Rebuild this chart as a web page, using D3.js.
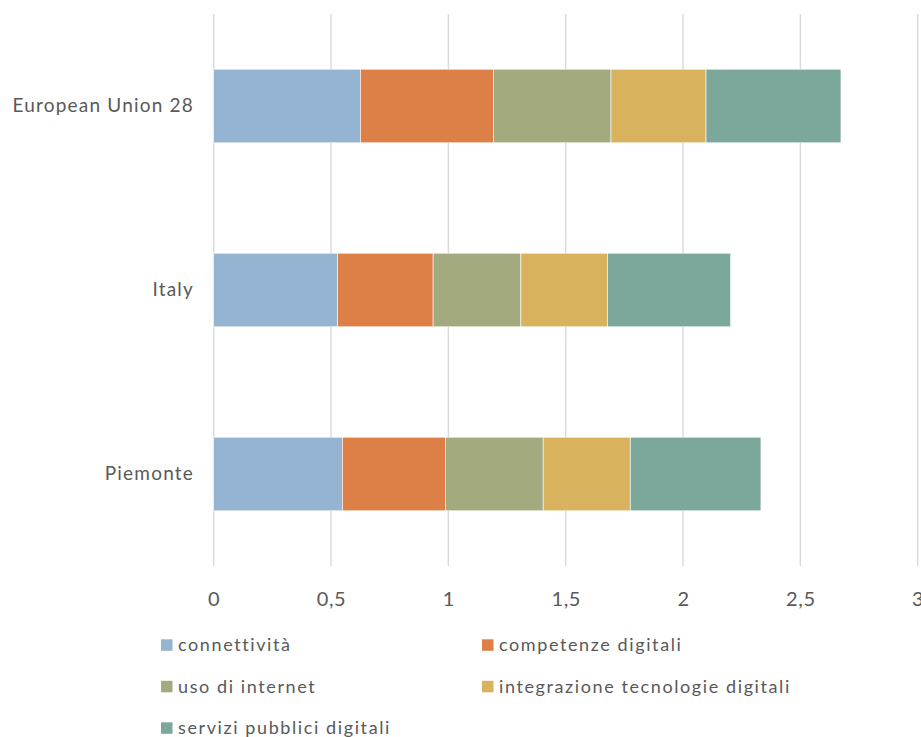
<!DOCTYPE html>
<html>
<head>
<meta charset="utf-8">
<script src="https://cdn.jsdelivr.net/npm/d3@7/dist/d3.min.js"></script>
<style>
  html, body { margin: 0; padding: 0; background: #fff; }
  svg { display: block; font-family: Lato, "Open Sans", sans-serif; }
</style>
</head>
<body>
<svg id="chart" width="921" height="737"></svg>
<script>
// Regions compared
const regions = ["European Union 28", "Italy", "Piemonte"];

// DESI dimensions (stacked in this order)
const dimensions = [
  "connettività",
  "competenze digitali",
  "uso di internet",
  "integrazione tecnologie digitali",
  "servizi pubblici digitali"
];

// Scores per dimension, one value per region (EU28, Italy, Piemonte)
const connettivita   = [0.625, 0.528, 0.548];
const competenze     = [0.567, 0.407, 0.439];
const usoInternet    = [0.501, 0.374, 0.417];
const integrazione   = [0.405, 0.369, 0.371];
const serviziPubblici = [0.575, 0.525, 0.557];

const seriesValues = [connettivita, competenze, usoInternet, integrazione, serviziPubblici];

const colors = ["#95b4d2", "#dd8047", "#a4aa80", "#d8b25d", "#7ca89c"];

// Axis ticks and their labels (decimal comma)
const tickValues = [0, 0.5, 1, 1.5, 2, 2.5, 3];
const tickLabels = ["0", "0,5", "1", "1,5", "2", "2,5", "3"];

const svg = d3.select("#chart");
const textColor = "#595959";

const plot = { left: 213.7, right: 917.7, top: 14, bottom: 566 };

const x = d3.scaleLinear().domain([0, 3]).range([plot.left, plot.right]);
const y = d3.scaleBand().domain(regions).range([plot.top, plot.bottom])
  .paddingInner(0.6).paddingOuter(0.3);

// Vertical gridlines
svg.append("g")
  .selectAll("line")
  .data(tickValues)
  .join("line")
  .attr("x1", d => x(d)).attr("x2", d => x(d))
  .attr("y1", plot.top).attr("y2", plot.bottom)
  .attr("stroke", "#d9d9d9")
  .attr("stroke-width", 1.4);

// Stack the dimensions per region
const rows = regions.map((r, i) => {
  const o = { region: r };
  dimensions.forEach((dname, k) => { o[dname] = seriesValues[k][i]; });
  return o;
});
const stacked = d3.stack().keys(dimensions)(rows);

svg.append("g")
  .selectAll("g")
  .data(stacked)
  .join("g")
  .attr("fill", (d, i) => colors[i])
  .selectAll("rect")
  .data(d => d)
  .join("rect")
  .attr("x", d => x(d[0]))
  .attr("width", d => x(d[1]) - x(d[0]))
  .attr("y", d => y(d.data.region))
  .attr("height", y.bandwidth())
  .attr("stroke", "#ffffff")
  .attr("stroke-width", 0.6);

// X axis labels
const xAxis = d3.axisBottom(x)
  .tickValues(tickValues)
  .tickFormat((d, i) => tickLabels[i])
  .tickSize(0)
  .tickPadding(0);

const gx = svg.append("g")
  .attr("transform", `translate(0, ${plot.bottom + 26})`)
  .call(xAxis);
gx.select(".domain").remove();
gx.selectAll("text")
  .attr("fill", textColor)
  .attr("font-size", "20px")
  .attr("letter-spacing", "0.6px")
  .attr("font-family", "Lato, 'Open Sans', sans-serif");

// Category labels
const yAxis = d3.axisLeft(y).tickSize(0).tickPadding(0);
const gy = svg.append("g")
  .attr("transform", `translate(194, 0)`)
  .call(yAxis);
gy.select(".domain").remove();
gy.selectAll("text")
  .attr("fill", textColor)
  .attr("font-size", "19px")
  .attr("letter-spacing", "1.2px")
  .attr("font-family", "Lato, 'Open Sans', sans-serif");

// Legend: two columns
const legendPos = [
  [161, 645], [482, 645],
  [161, 686.5], [482, 686.5],
  [161, 728]
];
const legend = svg.append("g")
  .selectAll("g")
  .data(dimensions)
  .join("g")
  .attr("transform", (d, i) => `translate(${legendPos[i][0]}, ${legendPos[i][1]})`);

legend.append("rect")
  .attr("x", 0).attr("y", -5.7)
  .attr("width", 11.5).attr("height", 11.5)
  .attr("fill", (d, i) => colors[i]);

legend.append("text")
  .attr("x", 17)
  .attr("y", 0)
  .attr("dy", "0.35em")
  .attr("fill", textColor)
  .attr("font-size", "18px")
  .attr("letter-spacing", "1.6px")
  .text(d => d);
</script>
</body>
</html>
